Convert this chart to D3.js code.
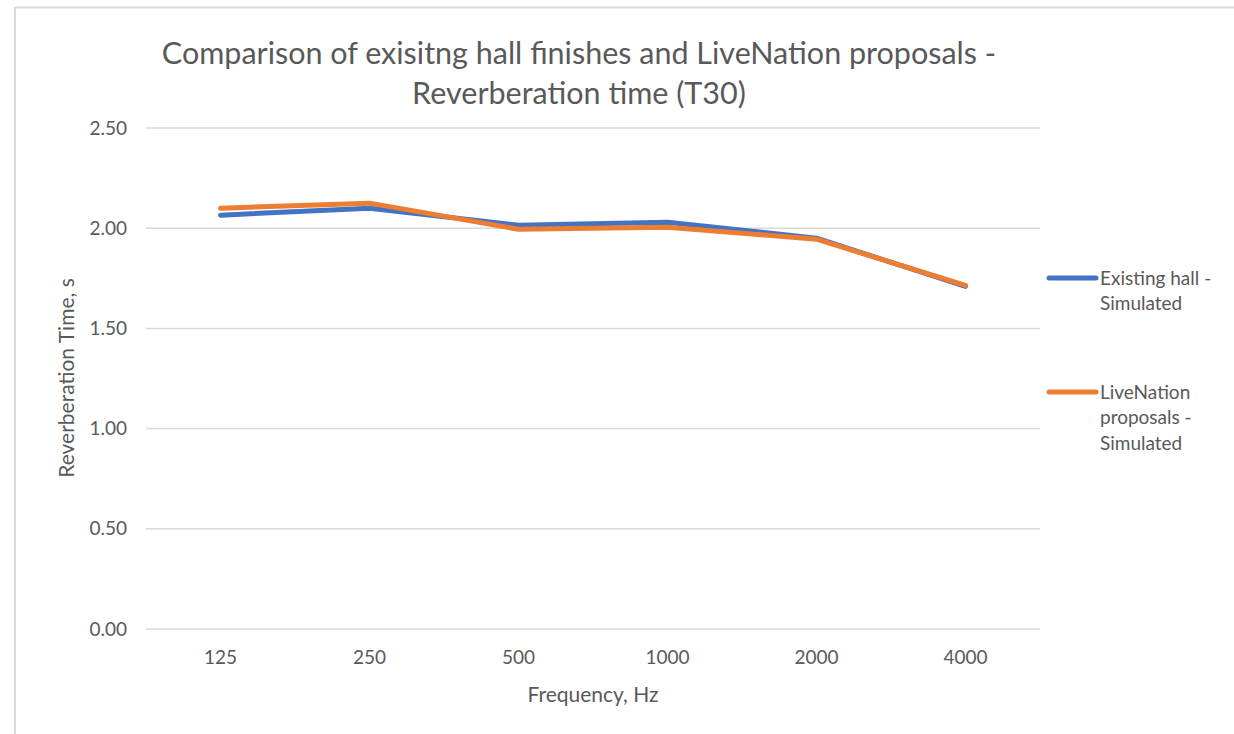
<!DOCTYPE html>
<html><head><meta charset="utf-8">
<script src="https://cdn.jsdelivr.net/npm/d3@7"></script>
<style>body{margin:0;background:#fff;} svg{display:block;font-family:Lato,"Open Sans",sans-serif;}</style>
</head><body>
<svg id="c" width="1234" height="734"></svg>
<script>
const categories = ["125","250","500","1000","2000","4000"];
const existingHall = [2.065, 2.10, 2.015, 2.03, 1.95, 1.71];
const liveNation = [2.10, 2.125, 1.995, 2.005, 1.945, 1.715];
const yTicks = [0, 0.5, 1.0, 1.5, 2.0, 2.5];
const seriesNames = [["Existing hall -","Simulated"],["LiveNation","proposals -","Simulated"]];
const colors = ["#4472C4","#ED7D31"];

const svg = d3.select("#c");
// chart border (top and left visible)
svg.append("line").attr("x1",15).attr("x2",1234).attr("y1",7.5).attr("y2",7.5).attr("stroke","#d9d9d9").attr("stroke-width",2);
svg.append("line").attr("x1",15).attr("x2",15).attr("y1",7).attr("y2",734).attr("stroke","#d9d9d9").attr("stroke-width",2);

const x = d3.scaleBand().domain(categories).range([146,1040]);
const y = d3.scaleLinear().domain([0,2.5]).range([629,128]);

// gridlines
svg.append("g").selectAll("line").data(yTicks).join("line")
  .attr("x1",146).attr("x2",1040).attr("y1",d=>y(d)).attr("y2",d=>y(d))
  .attr("stroke","#d9d9d9").attr("stroke-width",1.5);

// y axis labels
const ya = svg.append("g").attr("transform","translate(127,0)")
  .call(d3.axisLeft(y).tickValues(yTicks).tickFormat(d3.format(".2f")).tickSize(0).tickPadding(0));
ya.select(".domain").remove();
ya.selectAll("text").attr("font-size",19).attr("fill","#595959").attr("font-family","Lato");

// x axis labels
const xa = svg.append("g").attr("transform","translate(0,650)")
  .call(d3.axisBottom(x).tickSize(0).tickPadding(0));
xa.select(".domain").remove();
xa.selectAll("text").attr("font-size",19).attr("fill","#595959").attr("font-family","Lato");

// lines
const line = d3.line().x((d,i)=>x(categories[i])+x.bandwidth()/2).y(d=>y(d));
[existingHall, liveNation].forEach((s,i)=>{
  svg.append("path").datum(s).attr("d",line).attr("fill","none")
    .attr("stroke",colors[i]).attr("stroke-width",5).attr("stroke-linecap","round").attr("stroke-linejoin","round");
});

// title
const t = svg.append("text").attr("text-anchor","middle").attr("fill","#595959").attr("font-size",30.5);
t.append("tspan").attr("x",579).attr("y",64).text("Comparison of exisitng hall finishes and LiveNation proposals -");
t.append("tspan").attr("x",579).attr("y",104).text("Reverberation time (T30)");

// axis titles
svg.append("text").attr("x",593).attr("y",702).attr("text-anchor","middle").attr("fill","#595959").attr("font-size",21).text("Frequency, Hz");
svg.append("text").attr("transform","translate(74,378) rotate(-90)").attr("text-anchor","middle").attr("fill","#595959").attr("font-size",21).text("Reverberation Time, s");

// legend
const legY = [278, 392];
seriesNames.forEach((names,i)=>{
  svg.append("line").attr("x1",1049).attr("x2",1096).attr("y1",legY[i]).attr("y2",legY[i])
    .attr("stroke",colors[i]).attr("stroke-width",5).attr("stroke-linecap","round");
  const tx = svg.append("text").attr("fill","#595959").attr("font-size",19);
  names.forEach((n,j)=>tx.append("tspan").attr("x",1100).attr("y",legY[i]+6.5+j*25.5).text(n));
});
</script>
</body></html>
